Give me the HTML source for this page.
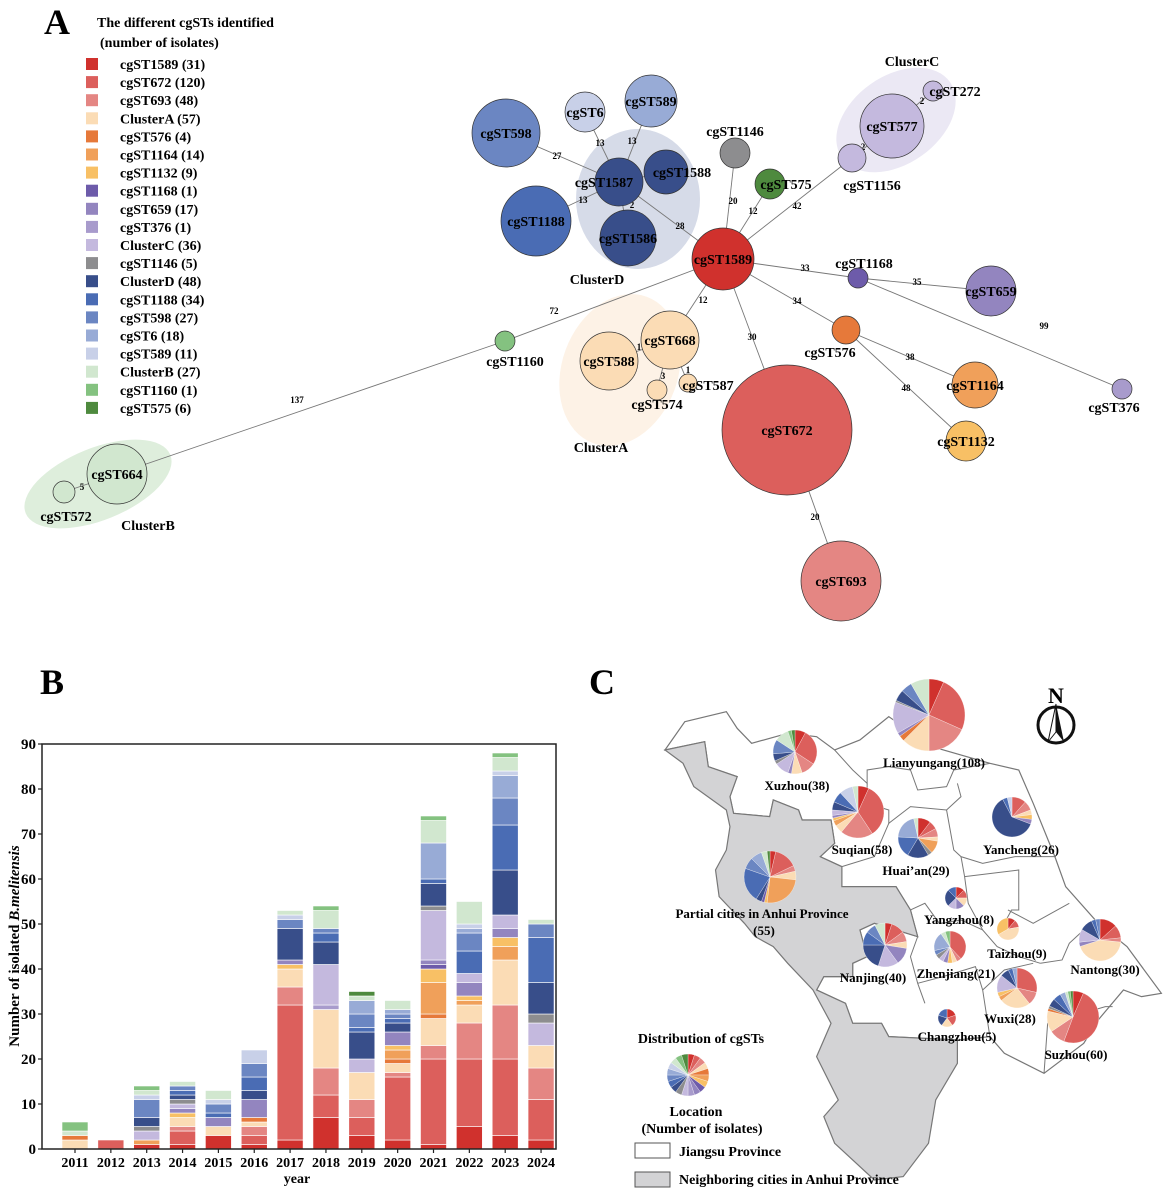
<!DOCTYPE html>
<html><head><meta charset="utf-8"><style>
body{margin:0;background:#fff}
svg{display:block;font-family:"Liberation Serif",serif;font-weight:bold}
</style></head><body>
<svg id="fig" width="1169" height="1193" viewBox="0 0 1169 1193" xmlns="http://www.w3.org/2000/svg">
<g id="panelA"></g>
<g id="panelB"></g>
<g id="panelC"></g>
</svg>
<script>
// ===== Shared series =====
const seriesNames = ["cgST1589","cgST672","cgST693","ClusterA","cgST576","cgST1164","cgST1132","cgST1168","cgST659","cgST376","ClusterC","cgST1146","ClusterD","cgST1188","cgST598","cgST6","cgST589","ClusterB","cgST1160","cgST575"];
const seriesCounts = [31,120,48,57,4,14,9,1,17,1,36,5,48,34,27,18,11,27,1,6];
const seriesColors = ["#d0312d","#dc5f5c","#e48683","#fbdcb5","#e6793a","#f0a05a","#f8c065","#6d5baa","#9385bf","#a89bcc","#c4b9de","#8d8d8f","#384e8a","#4a6cb4","#6b86c2","#98abd6","#c8d0e8","#d1e7cf","#84c280","#4e8a3e"];

// ===== Bar chart data (panel B) =====
const years = [2011,2012,2013,2014,2015,2016,2017,2018,2019,2020,2021,2022,2023,2024];
const yTicks = [0,10,20,30,40,50,60,70,80,90];
// each year: [seriesIndex, count] bottom-up
const y2011 = [[3,2],[4,1],[17,1],[18,2]];
const y2012 = [[1,2]];
const y2013 = [[0,1],[5,1],[10,2],[11,1],[12,2],[14,4],[16,1],[17,1],[18,1]];
const y2014 = [[0,1],[1,3],[2,1],[3,2],[6,1],[8,1],[10,1],[11,1],[12,1],[13,1],[14,1],[17,1]];
const y2015 = [[0,3],[3,2],[8,2],[13,1],[14,2],[16,1],[17,2]];
const y2016 = [[0,1],[1,2],[2,2],[3,1],[4,1],[8,4],[12,2],[13,3],[14,3],[16,3]];
const y2017 = [[0,2],[1,30],[2,4],[3,4],[6,1],[8,1],[12,7],[14,2],[16,1],[17,1]];
const y2018 = [[0,7],[1,5],[2,6],[3,13],[9,1],[10,9],[12,5],[13,2],[14,1],[17,4],[18,1]];
const y2019 = [[0,3],[1,4],[2,4],[3,6],[10,3],[12,6],[13,1],[14,3],[15,3],[17,1],[19,1]];
const y2020 = [[0,2],[1,14],[2,1],[3,2],[4,1],[5,2],[6,1],[8,3],[12,2],[13,1],[14,1],[15,1],[17,2]];
const y2021 = [[0,1],[1,19],[2,3],[3,6],[4,1],[5,7],[6,3],[7,1],[8,1],[10,11],[11,1],[12,5],[13,1],[15,8],[17,5],[18,1]];
const y2022 = [[0,5],[1,15],[2,8],[3,4],[5,1],[6,1],[8,3],[10,2],[13,5],[14,4],[15,1],[16,1],[17,5]];
const y2023 = [[0,3],[1,17],[2,12],[3,10],[5,3],[6,2],[8,2],[10,3],[12,10],[13,10],[14,6],[15,5],[16,1],[17,3],[18,1]];
const y2024 = [[0,2],[1,9],[2,7],[3,5],[10,5],[11,2],[12,7],[13,10],[14,3],[17,1]];
const yearStacks = [y2011,y2012,y2013,y2014,y2015,y2016,y2017,y2018,y2019,y2020,y2021,y2022,y2023,y2024];

const NS="http://www.w3.org/2000/svg";
function mk(parent,tag,attrs,text){const e=document.createElementNS(NS,tag);for(const k in attrs)e.setAttribute(k,attrs[k]);if(text!==undefined)e.textContent=text;parent.appendChild(e);return e;}

// ===== Panel B =====
(function(){
const g=document.getElementById('panelB');
const X0=42,X1=556,Y0=1149,Y1=744,VMAX=90;
const yScale=v=>Y0-(v/VMAX)*(Y0-Y1);
const xScale=i=>75+i*35.85;
const bw=26;
let t=mk(g,'text',{x:52,y:694,'font-size':36,'text-anchor':'middle'},'B');


yearStacks.forEach((stack,i)=>{
  let cum=0;
  stack.forEach(([s,v])=>{
    const r=mk(g,'rect',{x:xScale(i)-bw/2,y:yScale(cum+v),width:bw,height:yScale(cum)-yScale(cum+v),fill:seriesColors[s],stroke:'#fff','stroke-width':0.6});
    
    
    cum+=v;
  });
});
const box=mk(g,'rect',{x:X0,y:Y1,width:X1-X0,height:Y0-Y1,fill:'none',stroke:'#222','stroke-width':1.5});


yTicks.forEach(v=>{
  mk(g,'line',{x1:X0-4,x2:X0,y1:yScale(v),y2:yScale(v),stroke:'#222','stroke-width':1.2});
  const l=mk(g,'text',{x:X0-6,y:yScale(v)+5,'font-size':15,'text-anchor':'end'},v);
  
  
});
years.forEach((yr,i)=>{
  mk(g,'line',{x1:xScale(i),x2:xScale(i),y1:Y0,y2:Y0+4,stroke:'#222','stroke-width':1.2});
  const l=mk(g,'text',{x:xScale(i),y:1167,'font-size':14,'text-anchor':'middle'},yr);
  
  
});
const xt=mk(g,'text',{x:297,y:1183,'font-size':14,'text-anchor':'middle'},'year');


const yt=mk(g,'text',{x:0,y:0,'font-size':15,'text-anchor':'middle',transform:'translate(19,946) rotate(-90)'});


mk(yt,'tspan',{},'Number of isolated ');
mk(yt,'tspan',{'font-style':'italic'},'B.melitensis');
})();

// ===== Panel A network =====
const nodeNames=["cgST1589","cgST672","cgST693","cgST668","cgST588","cgST574","cgST587","cgST576","cgST1164","cgST1132","cgST1168","cgST659","cgST376","cgST577","cgST272","cgST1156","cgST1146","cgST575","cgST1587","cgST1588","cgST1586","cgST1188","cgST598","cgST6","cgST589","cgST1160","cgST664","cgST572"];
(function(){
const g=document.getElementById('panelA');
const N={
cgST1589:[723,259,31,0],cgST672:[787,430,65,1],cgST693:[841,581,40,2],
cgST668:[670,340,29,3],cgST588:[609,361,29,3],cgST574:[657,390,10,3],cgST587:[688,383,9,3],
cgST576:[846,330,14,4],cgST1164:[975,385,23,5],cgST1132:[966,441,20,6],
cgST1168:[858,278,10,7],cgST659:[991,291,25,8],cgST376:[1122,389,10,9],
cgST577:[892,126,32,10],cgST272:[933,91,10,10],cgST1156:[852,158,14,10],
cgST1146:[735,153,15,11],cgST575:[770,184,15,19],
cgST1587:[619,182,24,12],cgST1588:[666,172,22,12],cgST1586:[628,238,28,12],
cgST1188:[536,221,35,13],cgST598:[506,133,34,14],cgST6:[585,112,20,16],cgST589:[651,101,26,15],
cgST1160:[505,341,10,18],cgST664:[117,474,30,17],cgST572:[64,492,11,17]};
[[620,370,58,78,20,'#fdf2e6'],[896,120,66,44,-35,'#ebe8f4'],[638,199,62,70,0,'#d6dbe8'],[98,484,78,36,-22,'#deeedc']].forEach(c=>{
  const e=mk(g,'ellipse',{cx:c[0],cy:c[1],rx:c[2],ry:c[3],fill:c[5],transform:`rotate(${c[4]} ${c[0]} ${c[1]})`});
  
  
});
const E=[["cgST1589","cgST672","30",752,337],["cgST672","cgST693","20",815,517],["cgST1589","cgST668","12",703,300],["cgST1589","cgST576","34",797,301],
["cgST576","cgST1164","38",910,357],["cgST576","cgST1132","48",906,388],["cgST1589","cgST1168","33",805,268],["cgST1168","cgST659","35",917,282],
["cgST1168","cgST376","99",1044,326],["cgST1589","cgST1156","42",797,206],["cgST1589","cgST575","12",753,211],["cgST1589","cgST1146","20",733,201],
["cgST1589","cgST1587","28",680,226],["cgST1587","cgST1588","",0,0],["cgST1587","cgST1586","2",632,205],["cgST1587","cgST1188","13",583,200],
["cgST1587","cgST598","27",557,156],["cgST1587","cgST6","13",600,143],["cgST1587","cgST589","13",632,141],["cgST1589","cgST1160","72",554,311],
["cgST1160","cgST664","137",297,400],["cgST664","cgST572","5",82,487],["cgST1156","cgST577","2",863,147],["cgST577","cgST272","2",922,101],
["cgST668","cgST588","1",639,347],["cgST668","cgST574","3",663,376],["cgST668","cgST587","1",688,370]];
E.forEach(e=>{
  const a=N[e[0]],b=N[e[1]];
  const l=mk(g,'line',{x1:a[0],y1:a[1],x2:b[0],y2:b[1],stroke:'#777','stroke-width':0.9});
  
  
});
E.forEach(e=>{ if(e[2]){const t=mk(g,'text',{x:e[3],y:e[4]+3,'font-size':9,'text-anchor':'middle'},e[2]);
  
  }});
const labelOff={cgST1146:[0,-22],cgST575:[16,0],cgST1168:[6,-15],cgST576:[-16,22],cgST376:[-8,18],cgST272:[22,0],cgST1156:[20,27],cgST1160:[10,20],cgST572:[2,24],cgST574:[0,14],cgST587:[20,2],cgST1588:[16,0],cgST1587:[-15,0]};
nodeNames.forEach(n=>{
  const v=N[n];
  const c=mk(g,'circle',{cx:v[0],cy:v[1],r:v[2],fill:seriesColors[v[3]],stroke:'#333','stroke-width':0.7});
  
  
});
nodeNames.forEach(n=>{
  const v=N[n];const o=labelOff[n]||[0,0];
  const t=mk(g,'text',{x:v[0]+o[0],y:v[1]+o[1]+5,'font-size':14,'text-anchor':'middle'},n);
  
  
});
[["ClusterA",601,452],["ClusterC",912,66],["ClusterD",597,284],["ClusterB",148,530]].forEach(c=>{
  const t=mk(g,'text',{x:c[1],y:c[2],'font-size':14,'text-anchor':'middle'},c[0]);
  
  
});
let t=mk(g,'text',{x:57,y:34,'font-size':36,'text-anchor':'middle'},'A');


t=mk(g,'text',{x:97,y:27,'font-size':14},'The different cgSTs identified');


t=mk(g,'text',{x:100,y:47,'font-size':14},'(number of isolates)');


seriesNames.forEach((s,i)=>{
  const y=64+i*18.1;
  const r=mk(g,'rect',{x:86,y:y-6,width:12,height:12,fill:seriesColors[i]});
  
  
  const tx=mk(g,'text',{x:120,y:y+5,'font-size':14},s+' ('+seriesCounts[i]+')');
  
  
});
})();

// ===== Panel C map =====
const cityNames=["Lianyungang(108)","Xuzhou(38)","Suqian(58)","Huai\u2019an(29)","Yancheng(26)","Partial cities in Anhui Province","Yangzhou(8)","Taizhou(9)","Nantong(30)","Nanjing(40)","Zhenjiang(21)","Wuxi(28)","Suzhou(60)","Changzhou(5)"];
const cityComp=[
[[0,8],[1,30],[2,22],[3,15],[4,3],[8,2],[10,17],[11,1],[12,6],[14,6],[17,10]],
[[0,3],[1,10],[2,4],[3,3],[8,1],[10,4],[11,1],[12,2],[14,4],[17,4],[18,1],[19,1]],
[[0,4],[1,20],[2,12],[3,3],[5,2],[6,1],[8,1],[10,2],[12,3],[13,4],[16,5],[17,2]],
[[0,3],[1,2],[2,2],[3,1],[5,3],[11,1],[12,5],[13,5],[15,6],[17,1]],
[[1,3],[2,2],[3,1],[6,1],[8,1],[12,16],[13,1],[16,1]],
[[0,2],[1,8],[2,2],[3,3],[5,14],[6,1],[7,1],[12,2],[13,12],[14,4],[15,4],[17,2],[19,1]],
[[0,1],[1,1],[3,1],[8,1],[10,1],[12,2],[13,1]],
[[0,1],[1,1],[3,4],[6,3]],
[[0,4],[1,3],[2,1],[3,13],[8,1],[10,3],[12,3],[13,1],[14,1]],
[[0,2],[1,4],[2,3],[3,2],[8,5],[10,6],[12,8],[13,4],[14,3],[17,3]],
[[1,8],[2,1],[3,1],[6,1],[8,1],[10,1],[11,1],[14,1],[15,4],[17,1],[18,1]],
[[1,8],[2,3],[3,7],[5,1],[6,1],[10,4],[12,2],[13,1],[15,1]],
[[0,4],[1,30],[2,6],[3,8],[4,1],[11,1],[12,3],[13,3],[15,2],[17,1],[18,1],[19,1]],
[[0,1],[1,1],[3,1],[12,1],[13,1]]];
(function(){
const g=document.getElementById('panelC');
const m=mk(g,'g',{transform:'translate(600,670) scale(0.361,0.3333)'});


const js="235,155 350,125 380,175 420,220 520,190 600,200 650,240 720,210 800,140 920,230 1080,280 1160,300 1200,400 1260,560 1290,650 1380,760 1460,830 1555,970 1500,980 1450,960 1380,1050 1340,1120 1230,1210 1120,1150 1080,1100 990,1110 800,1100 780,1060 700,1060 680,1000 600,960 620,920 700,920 700,880 740,860 720,780 760,760 880,800 860,720 820,650 670,650 670,590 610,560 650,520 640,450 560,450 550,420 480,390 470,440 370,430 360,380 380,320 300,290 290,215 180,240";
const p1=mk(m,'polygon',{points:js,fill:'#fff',stroke:'#777','stroke-width':1.2,'vector-effect':'non-scaling-stroke'});


const ah="180,240 290,215 300,290 380,320 360,380 370,430 470,440 480,390 550,420 560,450 640,450 650,520 610,560 670,590 670,650 820,650 860,720 880,800 760,760 720,780 740,860 700,880 700,920 620,920 600,960 680,1000 700,1060 780,1060 800,1100 990,1110 990,1180 930,1290 910,1420 840,1520 760,1530 650,1420 620,1340 660,1290 600,1160 640,1060 590,960 520,880 480,830 430,800 400,760 330,680 320,600 350,540 360,470 350,420 260,350 230,280";
const p2=mk(m,'polygon',{points:ah,fill:'#d3d3d5',stroke:'#777','stroke-width':1.2,'vector-effect':'non-scaling-stroke'});


["650,240 700,300 740,340 740,300 800,290 860,300 880,360 960,350 980,300 1080,280","740,340 740,400 800,420 800,460 860,410 960,420 1000,380 990,340","960,420 980,540 1000,560 1060,580 1150,560 1260,560","800,460 760,560 670,590","1000,560 1010,620 1020,700 1060,780 1100,830 1160,860 1220,880","1010,620 1160,600 1160,720 1140,720 1120,760 1130,800","1130,720 1200,760 1300,700","1220,880 1280,870 1300,820 1340,780 1400,840","860,720 900,700 940,760 1000,750 1060,780","880,800 860,860 880,940 900,1000","880,940 950,920 1040,890 1060,960 1080,1100","1060,960 1120,900 1200,880","1230,1210 1240,1060 1400,1010 1420,1010"].forEach(s=>{
  const l=mk(m,'polyline',{points:s,fill:'none',stroke:'#777','stroke-width':1,'vector-effect':'non-scaling-stroke'});
  
  
});
function pie(cx,cy,r,comp,name){
  const pg=mk(g,'g',{});
  
  
  const tot=comp.reduce((a,c)=>a+c[1],0);let a0=-Math.PI/2;
  comp.forEach(([s,v])=>{
    const a1=a0+v/tot*2*Math.PI;
    const large=(a1-a0)>Math.PI?1:0;
    const d=`M${cx},${cy} L${cx+r*Math.cos(a0)},${cy+r*Math.sin(a0)} A${r},${r} 0 ${large} 1 ${cx+r*Math.cos(a1)},${cy+r*Math.sin(a1)} Z`;
    const p=mk(pg,'path',{d:d,fill:seriesColors[s],stroke:'#fff','stroke-width':0.3});
    
    
    a0=a1;
  });
}
const P=[[929,715,36],[795,752,22],[858,812,26],[918,838,20],[1012,817,20],[770,877,26],[956,898,11],[1008,929,11],[1100,940,21],[885,945,22],[950,947,16],[1017,988,20],[1073,1017,26],[947,1018,9]];
const L=[[934,767],[797,790],[862,854],[916,875],[1021,854],[762,918],[959,924],[1017,958],[1105,974],[873,982],[956,978],[1010,1023],[1076,1059],[957,1041]];
P.forEach((p,i)=>pie(p[0],p[1],p[2],cityComp[i],'pie-'+cityNames[i].replace(/[^A-Za-z]/g,'').toLowerCase()));
cityNames.forEach((n,i)=>{
  const t=mk(g,'text',{x:L[i][0],y:L[i][1],'font-size':13,'text-anchor':'middle'},n);
  
  
});
let t=mk(g,'text',{x:764,y:935,'font-size':13,'text-anchor':'middle'},'(55)');


pie(688,1075,21,seriesNames.map((s,i)=>[i,1]),'legend-pie');
t=mk(g,'text',{x:602,y:694,'font-size':36,'text-anchor':'middle'},'C');


[["Distribution of cgSTs",701,1043],["Location",696,1116],["(Number of isolates)",702,1133]].forEach(a=>{
  const x=mk(g,'text',{x:a[1],y:a[2],'font-size':14,'text-anchor':'middle'},a[0]);
  
  
});
let r=mk(g,'rect',{x:635,y:1143,width:35,height:15,fill:'#fff',stroke:'#555','stroke-width':1});


t=mk(g,'text',{x:679,y:1156,'font-size':14},'Jiangsu Province');


r=mk(g,'rect',{x:635,y:1172,width:35,height:15,fill:'#d3d3d5',stroke:'#555','stroke-width':1});


t=mk(g,'text',{x:679,y:1184,'font-size':14},'Neighboring cities in Anhui Province');


const cg=mk(g,'g',{});


mk(cg,'text',{x:1056,y:703,'font-size':22,'text-anchor':'middle'},'N');
mk(cg,'circle',{cx:1056,cy:725,r:18,fill:'none',stroke:'#111','stroke-width':3});
mk(cg,'polygon',{points:'1056,704 1048,742 1056,732',fill:'#fff',stroke:'#111','stroke-width':1});
mk(cg,'polygon',{points:'1056,704 1064,742 1056,732',fill:'#111'});
})();
</script>
</body></html>
